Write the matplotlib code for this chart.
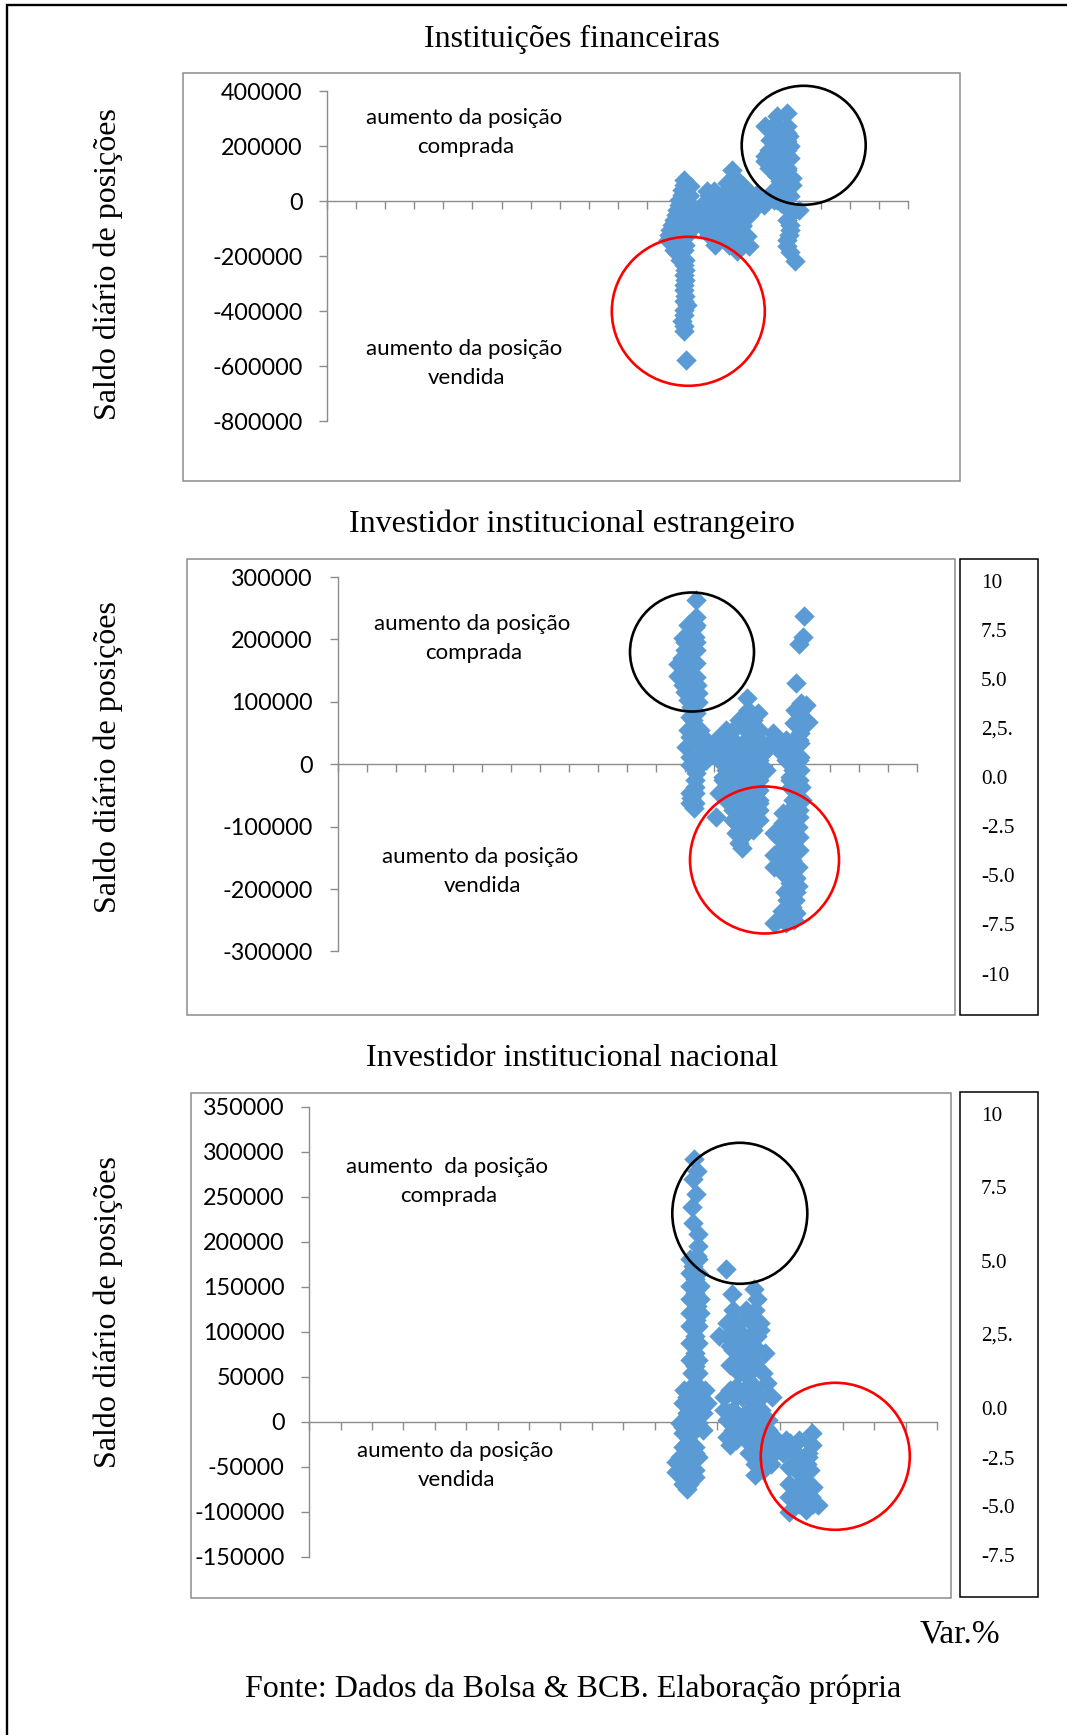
import matplotlib
matplotlib.use('Agg')
import matplotlib.pyplot as plt
from matplotlib.patches import Ellipse, Rectangle

W, H = 1067, 1735
SERIF = 'Liberation Serif'
SANS = 'Lato'
GRIS = '#8C8C8C'
AZUL = '#5B9BD5'

# Instituicoes financeiras
x1 = [2.36, 2.30, 2.22, 2.30, 2.39, 2.33, 2.30, 2.33, 2.33, 2.16, 2.33, 2.05,
      2.30, 2.22, 2.10, 2.05, 1.93, 1.82, 1.72, 1.93, 2.28, 2.33, 2.28, 2.51, 2.45, 2.50,
      3.08, 3.31, 3.94, 3.77, 4.11, 4.46, 4.80, 5.03, 3.43, 4.11, 4.52, 4.46, 4.29, 4.80,
      3.20, 3.43, 3.77, 3.77, 4.11, 3.20, 3.54, 2.85, 2.85, 3.89, 4.11, 4.46,
      5.84, 5.49, 5.07, 5.38, 5.84, 5.90, 5.26, 5.95, 5.06, 5.84, 5.38, 5.06, 5.49, 5.95,
      6.01, 6.01, 5.38, 5.72, 5.95, 6.24, 5.84, 5.84, 5.95, 5.84, 5.92, 6.10, 5.61, 5.15,
      5.84, 5.49, 5.49, 5.72]
y1 = [-575700, -470300, -436300, -412100, -375700, -345400, -321200, -284800, -248500, -212100, -212100, -187900,
      78800, 42400, 6100, -30300, -66700, -103000, -139400, -175700, -175700, -127300, -66700, -30300, 18200, 54500,
      36400, 36400, 115100, 66700, 78800, 42400, 12100, -12100, -139400, -181800, -163600, -127300, -90900, -18200,
      -6100, -30300, -6100, -54500, -54500, -54500, -90900, -30300, -78800, -103000, -6100, -30300,
      321200, 309000, 275100, 278800, 272700, 236300, 224200, 200000, 163600, 157600, 175700, 145400, 127300, 157600,
      84800, 60600, 42400, 54500, 18200, -30300, -24200, -66700, -103000, -139400, -184200, -215700, -6100, 6100,
      115100, 90900, 236300, 187900]
mas1 = [(2.30, -230300), (2.30, -266600), (2.30, -303000), (2.30, -363600), (2.30, -393900), (2.30, -454500),
        (2.22, 24200), (2.45, 24200), (3.14, 24200), (3.37, 24200), (3.60, 24200), (3.83, 24200), (4.06, 24200),
        (4.29, 24200), (4.52, 24200), (4.75, 24200),
        (2.10, -12100), (2.45, -12100), (2.91, -12100), (3.37, -12100), (3.83, -12100), (4.29, -12100), (4.75, -12100),
        (2.00, -48500), (2.22, -48500), (2.68, -48500), (3.14, -48500), (3.60, -48500), (4.06, -48500), (4.52, -48500),
        (1.87, -84800), (2.22, -84800), (2.68, -84800), (3.14, -84800), (3.60, -84800), (4.06, -84800), (4.29, -84800),
        (1.76, -121200), (2.22, -121200), (2.40, -121200), (3.14, -121200), (3.60, -121200), (4.06, -121200), (4.29, -121200),
        (1.99, -157600), (2.33, -157600), (3.37, -157600), (3.83, -157600), (4.29, -157600),
        (2.28, 60600), (3.94, 60600), (4.29, 60600),
        (5.38, 248500), (5.84, 248500), (5.49, 218200), (5.84, 218200), (5.21, 187900), (5.84, 187900),
        (5.38, 151500), (5.21, 121200), (5.60, 121200), (5.84, 121200), (5.84, 90900), (5.60, 72700),
        (5.49, 30300), (5.84, 30300), (5.38, 6100), (5.72, 6100), (6.00, -42400), (5.95, -84800),
        (5.90, -121200), (5.84, -163600), (5.15, 6100), (5.49, 6100),
        (3.00, -30000), (3.50, -30000), (4.00, -30000), (4.40, -60000), (3.40, -60000), (2.90, -60000),
        (2.50, -100000), (2.90, -90000), (3.30, -100000), (3.80, -110000), (4.60, -10000), (2.60, -20000)]

# Investidor institucional estrangeiro
x2 = [2.36, 2.36, 2.32, 1.92, 2.34, 2.38, 1.98, 1.76, 1.76, 1.91, 2.38, 2.38, 2.44, 2.08, 2.44, 2.21,
      2.15, 2.38, 2.09, 2.03, 2.49, 2.38, 2.38, 2.32, 2.21, 2.29,
      3.07, 3.05, 3.41, 3.87, 4.14, 4.16, 4.51, 4.33, 3.64, 4.11, 4.56, 5.02, 4.79, 3.30, 4.00, 4.45,
      3.30, 3.87, 4.45, 3.18, 3.76, 4.45, 4.56, 3.64, 4.34, 3.76, 4.45, 3.76, 3.87, 3.97,
      6.11, 6.06, 5.94, 5.83, 6.00, 6.17, 5.89, 6.23, 5.77, 5.95, 5.95, 5.95, 5.95, 6.00, 6.03,
      5.37, 5.94, 5.88, 5.08, 5.49, 5.94, 5.94, 5.08, 5.49, 5.08, 5.83, 5.83, 5.60, 5.54, 5.83,
      5.08, 5.48, 5.37, 5.60, 5.37, 5.60, 5.66, 5.66, 5.14]
y2 = [263300, 236600, 220500, 201900, 203900, 183200, 183200, 160700, 141500, 127100, 161800, 140400, 113700, 103100, 100400, 129800,
      76400, 81700, 55000, 28300, 39000, 6900, -14400, -35800, -54500, -70500,
      -83800, 39000, 55000, 71000, 105700, 87000, 81700, 60300, 33600, 33600, 39000, 49700, 23000, 12300, 6900, 6900,
      -19800, -19800, -19800, -46500, -46500, -46500, -62500, -73200, -83800, -94500, -83800, -110500, -126600, -134600,
      237600, 204500, 192800, 129800, 97700, 95100, 81700, 68400, 65700, 49700, 33600, 12300, -9100, -35800, -57100,
      -78500, -83800, -99900, -110500, -110500, -115900, -137200, -145200, -147900, -163900, -182600, -204000, -217300, -233400, -238700,
      -254700, -254700, -163900, -190600, 33600, -19800, -35800, 33600, 33600]
mas2 = [(2.10, 223200), (2.36, 223200), (2.20, 209900), (2.36, 196500), (1.98, 196500), (2.10, 169800), (1.90, 169800),
        (2.10, 153800), (2.40, 127100), (2.00, 116400), (2.20, 116400), (2.20, 92400), (2.26, 71000),
        (2.15, 55000), (2.50, 55000), (2.15, 44300), (2.50, 44300), (2.50, 28300), (2.90, 28300), (2.15, 12300), (2.60, 12300),
        (2.15, -1900), (2.50, -1900), (2.32, -3700), (2.32, -25100), (2.32, -46500), (2.32, -62500), (2.15, -46500), (2.15, -62500),
        (2.72, 39000), (3.18, 39000), (3.64, 39000), (4.10, 39000), (4.56, 39000), (5.02, 39000), (5.48, 39000), (5.94, 39000),
        (2.95, 23000), (3.41, 23000), (3.87, 23000), (4.33, 23000), (4.79, 23000), (5.25, 23000), (5.71, 23000),
        (2.72, 6900), (3.18, 6900), (3.64, 6900), (4.10, 6900), (4.56, 6900), (5.48, 6900), (5.94, 6900),
        (3.41, -9100), (3.87, -9100), (4.33, -9100), (4.79, -9100), (5.71, -9100),
        (3.30, -25100), (3.64, -25100), (4.10, -25100), (4.56, -25100), (5.60, -25100), (5.94, -25100),
        (3.41, -41100), (3.87, -41100), (4.33, -41100), (4.56, -41100), (5.71, -41100),
        (3.41, -57100), (3.64, -57100), (4.10, -57100), (4.56, -57100), (5.94, -57100), (5.71, -57100),
        (3.87, -73200), (4.33, -73200), (4.56, -73200), (3.64, -89200), (4.10, -89200), (4.56, -89200), (3.87, -105200), (4.33, -105200),
        (3.64, 55000), (4.10, 55000), (4.56, 55000), (4.33, 71000),
        (5.60, -73200), (5.94, -73200), (5.37, -94500), (5.70, -94500), (5.20, -115900), (5.60, -115900),
        (5.37, -131900), (5.70, -131900), (5.70, -153300), (5.37, -174600), (5.70, -174600), (5.60, -196000),
        (5.50, -217300), (5.80, -217300), (5.70, -228000), (5.60, -244000),
        (6.00, 87000), (5.80, 87000), (5.95, 60300),
        (5.40, -120000), (5.25, -150000), (5.50, -135000), (5.90, -165000), (5.55, -175000), (5.45, -205000),
        (5.90, -195000), (5.35, -235000), (5.75, -250000), (5.20, -250000), (5.40, -100000), (5.60, -85000),
        (3.90, -20000), (4.20, -40000), (4.00, -70000), (4.20, -100000), (4.00, -115000)]

# Investidor institucional nacional
x3 = [2.27, 2.35, 2.24, 2.32, 2.19, 2.24, 2.40, 2.40, 2.35, 2.24, 2.29, 2.29, 2.35, 2.32, 2.29, 2.29, 2.29, 2.29,
      3.27, 2.03, 2.45, 2.03, 2.56, 2.56, 1.92, 2.03, 2.29, 1.69, 1.69, 1.97, 2.03, 2.29, 2.67,
      3.46, 4.17, 4.26, 3.04, 3.51, 4.04, 4.36, 3.41, 4.04, 4.52, 3.39, 3.94, 4.47, 4.58, 4.73,
      3.41, 3.94, 3.36, 4.20, 3.30, 3.41, 4.04, 3.73, 4.15, 4.20, 4.47, 4.58, 5.00, 5.32,
      6.01, 6.01, 5.90, 5.96, 5.27, 5.64, 6.06, 5.43, 6.22, 5.82, 5.27, 5.86, 5.53, 5.64]
y3 = [292000, 279000, 269700, 253000, 238100, 221300, 208300, 195300, 184100, 173000, 158100, 143200, 128300, 113500, 94900, 76300, 61400, 42800,
      169300, 27900, 31600, 9300, 9300, -9300, -5600, -24200, -35300, -44600, -55800, -61400, -75100, -53900, 20500,
      141400, 146900, 135800, 94900, 113500, 117200, 102300, 83700, 94900, 76300, 63200, 72500, 53900, 42800, 27900,
      35300, 39100, 9300, 20500, -16700, -26000, -9300, 1900, -35300, -59500, -53900, -20500, -31600, -24200,
      -13000, -26000, -39100, -53900, -50200, -57700, -72500, -80000, -93000, -98600, -100400, -80000, -39100, -88000]
mas3 = [(2.13, 180400), (2.40, 180400), (2.40, 165500), (2.13, 165500), (2.13, 150700), (2.20, 135800), (2.20, 120900),
        (2.13, 106000), (2.40, 106000), (2.13, 87400), (2.40, 87400), (2.13, 68800), (2.40, 68800), (2.20, 53900), (2.40, 53900),
        (1.95, 35300), (2.25, 35300), (2.60, 35300), (1.90, 20500), (2.20, 20500), (2.45, 20500), (2.30, 9300),
        (1.80, -1900), (2.10, -1900), (2.40, -1900), (2.20, -13000), (1.90, -13000), (1.90, -27900), (2.30, -27900),
        (1.80, -39100), (2.10, -39100), (2.40, -39100), (1.90, -50200), (2.10, -50200), (2.30, -61400), (2.10, -68800), (1.90, -68800),
        (3.50, 124600), (3.90, 124600), (4.20, 124600), (3.30, 109700), (3.70, 109700), (4.10, 109700), (4.35, 109700),
        (3.30, 94900), (3.60, 94900), (3.85, 94900), (4.25, 94900), (3.70, 80000), (4.00, 80000), (4.30, 80000),
        (3.60, 65100), (3.90, 65100), (4.20, 65100), (3.70, 53900), (4.00, 53900), (3.60, 39100), (4.20, 39100),
        (3.20, 27900), (3.60, 27900), (4.00, 27900), (4.40, 27900), (3.50, 13000), (4.40, 13000), (3.20, 13000),
        (3.30, 1900), (3.50, 1900), (4.30, 1900), (4.60, 1900), (3.50, -9300), (3.80, -9300), (4.30, -9300), (4.60, -9300),
        (3.60, -20500), (3.90, -20500), (4.30, -20500), (4.40, -35300), (4.60, -35300), (4.00, -35300),
        (4.20, -46500), (4.45, -46500), (4.70, -46500),
        (4.80, -35300), (5.10, -35300), (5.50, -35300), (5.90, -35300), (4.90, -20500), (5.20, -20500), (5.60, -20500),
        (5.60, -46500), (5.85, -46500), (5.30, -68800), (5.60, -68800), (5.90, -68800),
        (5.30, -83700), (5.90, -83700), (6.00, -83700), (5.60, -91100), (5.90, -91100), (6.05, -91100),
        (2.45, 150700), (2.45, 135800), (2.13, 120900), (2.45, 120900), (2.13, 135800),
        (3.50, 109700), (4.10, 94900), (3.50, 80000), (3.85, 80000), (3.75, 65100), (4.05, 65100), (3.85, 53900),
        (3.80, 27900), (4.20, 27900), (4.00, 13000), (4.15, 13000), (3.65, 1900), (3.95, 1900), (4.10, 1900)]

titulos = ['Instituições financeiras', 'Investidor institucional estrangeiro', 'Investidor institucional nacional']
ticks1 = [400000, 200000, 0, -200000, -400000, -600000, -800000]
ticks2 = [300000, 200000, 100000, 0, -100000, -200000, -300000]
ticks3 = [350000, 300000, 250000, 200000, 150000, 100000, 50000, 0, -50000, -100000, -150000]
xticks = list(range(-10, 11))
escala2 = ['10', '7.5', '5.0', '2,5.', '0.0', '-2.5', '-5.0', '-7.5', '-10']
escala3 = ['10', '7.5', '5.0', '2,5.', '0.0', '-2.5', '-5.0', '-7.5']

fig = plt.figure(figsize=(W / 100, H / 100), dpi=100)

# capa en pixeles para marcos, textos y circulos
capa = fig.add_axes([0, 0, 1, 1], zorder=5)
capa.set_xlim(0, W)
capa.set_ylim(H, 0)
capa.axis('off')
capa.patch.set_alpha(0)


def caja(x0, y0, x1_, y1_, color, lw):
    capa.add_patch(Rectangle((x0, y0), x1_ - x0, y1_ - y0, fill=False, ec=color, lw=lw))


def circulo(cx, cy, w, h, color):
    capa.add_patch(Ellipse((cx, cy), w, h, fill=False, ec=color, lw=1.9))


def panel(xs, ys, extra, ticks, izq, der, arr, aba):
    # izq/der/arr/aba: extremos de los ejes en pixeles
    ax = fig.add_axes([izq / W, 1 - aba / H, (der - izq) / W, (aba - arr) / H], zorder=2)
    ax.patch.set_alpha(0)
    ax.scatter(xs + [p[0] for p in extra], ys + [p[1] for p in extra], marker='D', s=108, color=AZUL,
               linewidths=0, clip_on=False, zorder=3)
    ax.set_xlim(-10, 10)
    ax.set_ylim(ticks[-1], ticks[0])
    ax.set_xticks(xticks)
    ax.set_xticklabels([])
    ax.set_yticks(ticks)
    ax.set_yticklabels([str(t) for t in ticks], fontfamily=SANS, fontsize=16.8, color='black')
    ax.spines['top'].set_visible(False)
    ax.spines['right'].set_visible(False)
    ax.spines['bottom'].set_position(('data', 0))
    for s in ['left', 'bottom']:
        ax.spines[s].set_color(GRIS)
        ax.spines[s].set_linewidth(1.0)
    ax.tick_params(axis='x', length=5.8, width=1.0, color=GRIS)
    ax.tick_params(axis='y', length=5.8, width=1.0, color=GRIS, pad=12)
    return ax


panel(x1, y1, mas1, ticks1, 327.3, 908, 91.3, 421.3)
panel(x2, y2, mas2, ticks2, 337.6, 917, 577, 951.5)
panel(x3, y3, mas3, ticks3, 309.3, 937, 1106.7, 1556.7)

# marco exterior
capa.plot([7, 7, W], [H, 5, 5], color='black', lw=1.7, solid_joinstyle='miter')

# cajas de los graficos
caja(183, 73, 960, 481, GRIS, 1.1)
caja(186.5, 559, 955, 1014.5, GRIS, 1.1)
caja(190.5, 1093, 951, 1598, GRIS, 1.1)
caja(960, 559, 1038, 1015, 'black', 1.1)
caja(960, 1092, 1038, 1597, 'black', 1.1)

# circulos
circulo(803.7, 145.3, 124, 119, 'black')
circulo(688.3, 311.3, 153, 149, '#FF0000')
circulo(692, 652, 124, 119, 'black')
circulo(764.5, 860, 149, 147, '#FF0000')
circulo(739.8, 1213.3, 135, 141, 'black')
circulo(835.3, 1456.3, 149, 147, '#FF0000')

# titulos y etiquetas
for t, yy in zip(titulos, [39, 524, 1058]):
    capa.text(572, yy, t, family=SERIF, fontsize=23, ha='center', va='center')
for yy in [264, 757, 1312]:
    capa.text(108, yy, 'Saldo diário de posições', family=SERIF, fontsize=23, rotation=90,
              ha='center', va='center')

notas = [(464, 118, 'aumento da posição'), (466, 147, 'comprada'),
         (464, 349, 'aumento da posição'), (466, 378, 'vendida'),
         (472, 624, 'aumento da posição'), (474, 653, 'comprada'),
         (480, 857, 'aumento da posição'), (483, 886, 'vendida'),
         (447, 1167, 'aumento  da posição'), (449, 1196, 'comprada'),
         (455, 1451, 'aumento da posição'), (457, 1480, 'vendida')]
for xx, yy, t in notas:
    capa.text(xx, yy, t, family=SANS, fontsize=16, ha='center', va='center')

# escalas de la derecha
for t, yy in zip(escala2, [583, 632, 681, 730, 779, 828, 877, 926, 976]):
    capa.text(981, yy, t, family=SERIF, fontsize=15.3, ha='left', va='center')
for t, yy in zip(escala3, [1116, 1189, 1263, 1336, 1410, 1460, 1508, 1557]):
    capa.text(981, yy, t, family=SERIF, fontsize=15.3, ha='left', va='center')

capa.text(920, 1642, 'Var.%', family=SERIF, fontsize=24, ha='left', va='baseline')
capa.text(245, 1697, 'Fonte: Dados da Bolsa & BCB. Elaboração própria', family=SERIF, fontsize=23,
          ha='left', va='baseline')

fig.savefig('out.png', dpi=100)
